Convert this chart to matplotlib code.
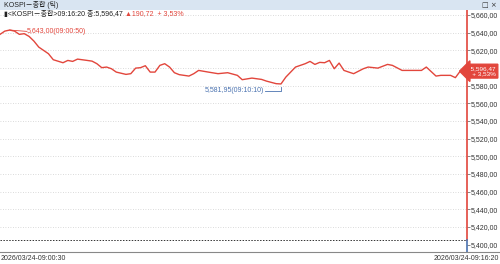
import matplotlib
matplotlib.use("Agg")
import matplotlib.pyplot as plt
from matplotlib.lines import Line2D
from matplotlib.patches import Rectangle
from matplotlib.ticker import FuncFormatter

plt.rcParams["font.family"] = ["Liberation Sans", "Noto Sans CJK KR", "DejaVu Sans"]

RED = "#e2463c"
BLUE = "#4a72b0"
GRAY = "#888888"

# tick data, seconds after 09:00:30
secs = [0, 10, 20, 30, 40, 50, 60, 70, 80, 100, 110, 130, 140, 150, 160, 180,
        190, 200, 210, 220, 230, 240, 260, 270, 280, 290, 300, 310, 320, 330,
        340, 350, 360, 370, 390, 400, 410, 430, 450, 470, 490, 500, 520, 540,
        550, 570, 580, 590, 610, 630, 640, 650, 660, 670, 680, 690, 700, 710,
        720, 730, 750, 760, 780, 800, 810, 830, 870, 880, 900, 910, 930, 940, 950]
kospi = [5638.1, 5641.8, 5643.0, 5641.8, 5638.1, 5638.9, 5635.8, 5630.5, 5623.7,
         5616.2, 5609.4, 5606.0, 5608.6, 5607.5, 5610.1, 5608.6, 5607.8, 5604.9,
         5600.4, 5601.1, 5599.2, 5595.4, 5592.8, 5593.6, 5599.9, 5600.4, 5602.6,
         5595.4, 5595.4, 5603.0, 5604.9, 5601.1, 5594.7, 5592.5, 5590.9, 5593.6,
         5597.3, 5595.4, 5593.6, 5594.7, 5591.7, 5586.8, 5588.6, 5587.1, 5585.2,
         5582.3, 5581.95, 5589.7, 5601.1, 5604.9, 5607.5, 5604.1, 5606.4, 5606.0,
         5608.6, 5599.2, 5605.6, 5597.3, 5595.4, 5593.6, 5599.2, 5601.1, 5599.9,
         5604.1, 5603.0, 5597.3, 5597.3, 5601.1, 5590.9, 5591.7, 5591.7, 5589.1,
         5596.47]

prev_close = 5405.75
y_ticks = list(range(5400, 5661, 20))
start_label = "2026/03/24-09:00:30"
end_label = "2026/03/24-09:16:20"

W, H = 500, 264
fig = plt.figure(figsize=(W / 100, H / 100), dpi=100)

# title bar
fig.patches.append(Rectangle((0, 1 - 10 / H), 1, 10 / H, transform=fig.transFigure,
                             facecolor="#d9e5f2", edgecolor="none"))
fig.text(4 / W, 1 - 5 / H, "KOSPI－종합 (틱)", fontsize=5, va="center", color="#222222")
fig.text(497 / W, 1 - 5 / H, "□ ×", fontsize=5, va="center", ha="right",
         color="#333333", family="DejaVu Sans")

ax = fig.add_axes([0, 1 - 252 / H, 467 / W, 242 / H])
ax.set_xlim(0, 964)
ax.set_ylim(5391.7, 5665.7)
for s in ax.spines.values():
    s.set_visible(False)

for v in y_ticks[1:]:
    ax.axhline(v, color="#cfcfcf", lw=0.6, ls=(0, (1, 2)), zorder=1)
ax.axhline(prev_close, color="#333333", lw=0.7, ls=(0, (1.5, 1.5)), zorder=2)

ax.plot(secs, kospi, color=RED, lw=1.0, zorder=5)

# right axis line: red above previous close, blue below
ytr = ax.get_yaxis_transform()
ax.plot([1, 1], [prev_close, 5665.7], transform=ytr, color=RED, lw=1.2, clip_on=False)
ax.plot([1, 1], [5391.7, prev_close], transform=ytr, color=BLUE, lw=1.2, clip_on=False)


def fmt(v, p):
    # the price tag hides the label it sits on
    if abs(v - kospi[-1]) < 10:
        return ""
    return f"{v:,.2f}".replace(".", ",")


ax.yaxis.tick_right()
ax.set_yticks(y_ticks)
ax.yaxis.set_major_formatter(FuncFormatter(fmt))
ax.tick_params(axis="y", length=2, width=0.5, color="#555555", pad=1,
               labelsize=5, labelcolor="#333333")
ax.set_xticks([])

# max / min markers
i_max = kospi.index(max(kospi))
i_min = kospi.index(min(kospi))
ax.plot([secs[i_max], 55], [kospi[i_max], kospi[i_max] - 1.5], color=RED, lw=0.6)
ax.text(56, kospi[i_max] - 1.5, "5,643,00(09:00:50)", color=RED, fontsize=5, va="center")
ax.plot([547, secs[i_min], secs[i_min]], [5574.3, 5574.3, kospi[i_min] - 3.5],
        color=BLUE, lw=0.6)
ax.text(545, 5574.3, "5,581,95(09:10:10)", color=BLUE, fontsize=5, va="center", ha="right")

# last price tag
ax.text(1.0, kospi[-1], "  5,596,47\n   + 3,53%", transform=ytr, fontsize=4.6,
        color="white", va="center", ha="left", linespacing=1.0, clip_on=False,
        zorder=10,
        bbox=dict(boxstyle="larrow,pad=0.3", facecolor=RED, edgecolor=RED))

# quote line, the change part in red right after the black part
quote = fig.text(4 / W, 1 - 14 / H, "▮<KOSPI－종합>09:16:20 종:5,596,47", fontsize=5,
                 va="center", color="#222222")
fig.add_artist(plt.Annotation(" ▲190,72  + 3,53%", xy=(1, 0.5), xycoords=quote,
                              fontsize=5, va="center", ha="left", color=RED,
                              annotation_clip=False))

# bottom axis and dates
fig.add_artist(Line2D([0, 1], [1 - 252 / H, 1 - 252 / H], color=GRAY, lw=0.8))
fig.text(1 / W, 1 - 258 / H, start_label, fontsize=5, va="center", color="#333333")
fig.text(499 / W, 1 - 258 / H, end_label, fontsize=5, va="center", ha="right",
         color="#333333")

fig.savefig("out.png", dpi=100, facecolor="white")
